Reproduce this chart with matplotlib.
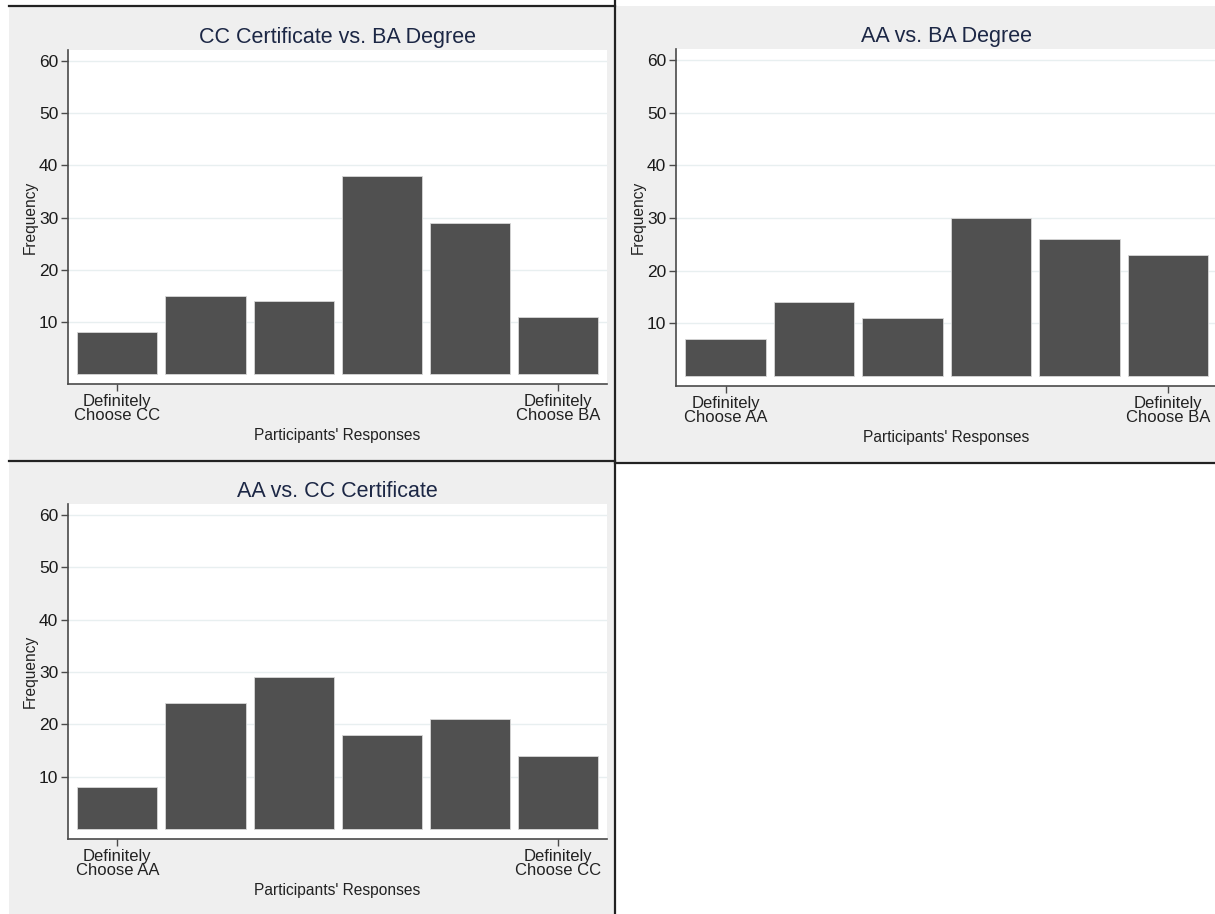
import matplotlib
matplotlib.use("Agg")
import matplotlib.pyplot as plt
from matplotlib.lines import Line2D
from matplotlib.patches import Rectangle

# Response scale 1..6 and frequencies for each pairing
responses = [1, 2, 3, 4, 5, 6]
cc_vs_ba = [8, 15, 14, 38, 29, 11]
aa_vs_ba = [7, 14, 11, 30, 26, 23]
aa_vs_cc = [8, 24, 29, 18, 21, 14]

titles = ["CC Certificate vs. BA Degree", "AA vs. BA Degree", "AA vs. CC Certificate"]
end_labels = [
    ("Definitely\nChoose CC", "Definitely\nChoose BA"),
    ("Definitely\nChoose AA", "Definitely\nChoose BA"),
    ("Definitely\nChoose AA", "Definitely\nChoose CC"),
]
y_ticks = [10, 20, 30, 40, 50, 60]

W, H = 1215, 914
BG = "#efefef"
BAR = "#505050"
AXIS = "#4a4a4a"
TITLE = "#1c2745"

plt.rcParams["font.family"] = ["Liberation Sans", "DejaVu Sans"]

fig = plt.figure(figsize=(W / 100, H / 100), dpi=100, facecolor="white")


def px_rect(l, t, r, b):
    return [l / W, 1 - b / H, (r - l) / W, (b - t) / H]


def px_line(x0, y0, x1, y1, lw=1.6):
    fig.add_artist(Line2D([x0 / W, x1 / W], [1 - y0 / H, 1 - y1 / H],
                          transform=fig.transFigure, color="#222222", lw=lw))


# grey graph regions behind each panel
for l, t, r, b in [(9, 6, 615, 461), (616, 6, 1215, 463), (9, 461, 615, 914)]:
    fig.add_artist(Rectangle((l / W, 1 - b / H), (r - l) / W, (b - t) / H,
                             transform=fig.transFigure, facecolor=BG,
                             edgecolor="none", zorder=0))

# panel borders
px_line(9, 6, 615, 6)
px_line(615, 0, 615, 914)
px_line(9, 461, 615, 461)
px_line(615, 463, 1215, 463)

panels = [
    (px_rect(68, 50, 607, 384), cc_vs_ba),
    (px_rect(676, 49, 1217, 386), aa_vs_ba),
    (px_rect(68, 504, 607, 839), aa_vs_cc),
]

for i, (rect, counts) in enumerate(panels):
    ax = fig.add_axes(rect)
    ax.set_facecolor("white")
    ax.bar(responses, counts, width=0.91, color=BAR, edgecolor="#d8d8d8",
           linewidth=0.6, zorder=3)
    ax.set_xlim(0.44, 6.555)
    ax.set_ylim(-1.9, 62.1)
    ax.set_yticks(y_ticks)
    ax.yaxis.grid(True, color="#e8eff0", lw=1.0, zorder=0)
    ax.set_xticks([responses[0], responses[-1]])
    ax.set_xticklabels(end_labels[i], fontsize=12, linespacing=0.98, color="#222222")
    for s in ["top", "right"]:
        ax.spines[s].set_visible(False)
    for s in ["left", "bottom"]:
        ax.spines[s].set_color(AXIS)
        ax.spines[s].set_linewidth(1.2)
    ax.tick_params(axis="y", labelsize=12.5, length=5, width=1.0, color=AXIS,
                   labelcolor="#1a1a1a", pad=2)
    ax.tick_params(axis="x", length=5, width=1.0, color=AXIS, pad=2)
    ax.set_title(titles[i], fontsize=15.5, color=TITLE, pad=5)
    ax.set_xlabel("Participants' Responses", fontsize=11.2, color="#222222", labelpad=3)
    ax.set_ylabel("Frequency", fontsize=11.2, color="#222222", labelpad=1)

fig.savefig("out.png", dpi=100, facecolor="white")
